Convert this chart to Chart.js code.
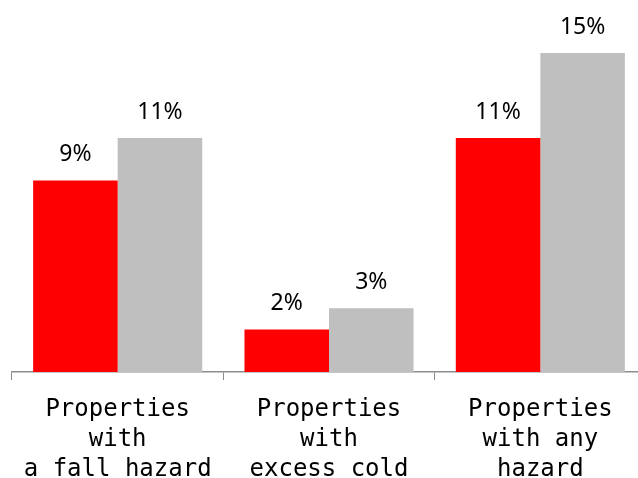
<!DOCTYPE html>
<html>
<head>
<meta charset="utf-8">
<script src="https://cdn.jsdelivr.net/npm/chart.js@4/dist/chart.umd.min.js"></script>
<style>
  html, body { margin: 0; padding: 0; background: #fff; overflow: hidden; }
  #wrap { width: 646px; height: 478px; }
</style>
</head>
<body>
<div id="wrap"><canvas id="hazardChart" width="646" height="478"></canvas></div>
<script>
const categories = [
  ["Properties", "with", "a fall hazard"],
  ["Properties", "with", "excess cold"],
  ["Properties", "with any", "hazard"]
];
const redValues = [9, 2, 11];
const greyValues = [11, 3, 15];

// draws the percentage above each bar
const valueLabels = {
  id: "valueLabels",
  afterDatasetsDraw(chart) {
    const ctx = chart.ctx;
    ctx.save();
    ctx.font = "23px 'Noto Sans', sans-serif";
    ctx.fillStyle = "#000";
    ctx.textAlign = "center";
    ctx.textBaseline = "middle";
    chart.data.datasets.forEach((ds, i) => {
      chart.getDatasetMeta(i).data.forEach((bar, j) => {
        ctx.fillText(ds.data[j] + "%", bar.x, bar.y - 26);
      });
    });
    ctx.restore();
  }
};

new Chart(document.getElementById("hazardChart"), {
  type: "bar",
  data: {
    labels: categories,
    datasets: [
      { data: redValues, backgroundColor: "#ff0000" },
      { data: greyValues, backgroundColor: "#bfbfbf" }
    ]
  },
  options: {
    responsive: false,
    animation: false,
    layout: { padding: { top: 53, left: 12, right: 0, bottom: 0 } },
    categoryPercentage: 0.8,
    barPercentage: 1.0,
    plugins: { legend: { display: false }, tooltip: { enabled: false } },
    scales: {
      x: {
        // fixed axis height keeps the baseline in place
        afterFit(scale) { scale.height = 106; },
        grid: {
          offset: true,
          drawOnChartArea: false,
          drawTicks: true,
          tickLength: 8,
          color: "#8c8c8c"
        },
        border: { display: true, color: "#8c8c8c", width: 1.5 },
        ticks: {
          color: "#000",
          padding: 15,
          maxRotation: 0,
          autoSkip: false,
          font: { family: "'DejaVu Sans Mono', monospace", size: 24, lineHeight: 1.25 }
        }
      },
      y: {
        display: false,
        min: 0,
        max: 15
      }
    }
  },
  plugins: [valueLabels]
});
</script>
</body>
</html>
